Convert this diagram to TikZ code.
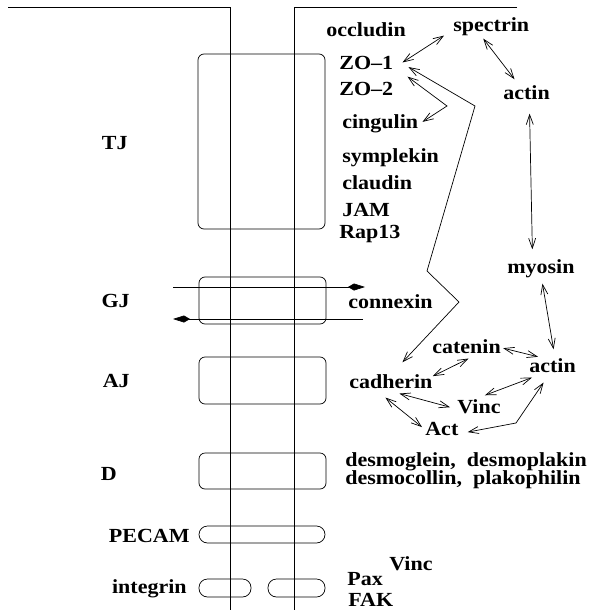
\documentclass[tikz,border=0pt]{standalone}
\usepackage{fontspec}
\setmainfont{Liberation Serif}[FakeStretch=1.1]
\usetikzlibrary{arrows.meta}

\tikzset{
    lbl/.style={font=\bfseries\fontsize{20}{18}\selectfont, inner sep=1pt},
    dbl/.style={{Straight Barb[length=10pt,width=7pt]}-{Straight Barb[length=10pt,width=7pt]}},
    gjarrow/.style={-{Kite[length=17pt,width=7pt,inset=6pt]}},
    junc/.style={rounded corners=6pt},
    pill/.style={rounded corners=8.5pt},
}

\begin{document}
\begin{tikzpicture}[x=1pt, y=-1pt, line width=0.7pt]
    \useasboundingbox (0,0) rectangle (593,610);
    % Membrane delle due cellule
    \draw (8,7) -- (230,7) -- (230,610);
    \draw (517,7) -- (294,7) -- (294,610);
    % Giunzioni
    \draw[junc] (198,54) rectangle (325,229);
    \draw[junc] (199,277) rectangle (326,324);
    \draw[junc] (199,357) rectangle (326,404);
    \draw[junc] (199,453) rectangle (326,489);
    \draw[pill] (199,526) rectangle (325,543);
    \draw[pill] (199,579) rectangle (251,597);
    \draw[pill] (268,579) rectangle (325,597);
    % Nomi delle giunzioni
    \node[lbl, anchor=base east] (tj) at (129,149) {TJ};
    \node[lbl, anchor=base east] (gj) at (131,307) {GJ};
    \node[lbl, anchor=base east] (aj) at (131,387) {AJ};
    \node[lbl, anchor=base east] (d) at (118,480) {D};
    \node[lbl, anchor=base east] (pecam) at (191,542) {PECAM};
    \node[lbl, anchor=base east] (integrin) at (188,593) {integrin};
    % Proteine
    \node[lbl, anchor=base west] (occludin) at (325,37) {occludin};
    \node[lbl, anchor=base west] (spectrin) at (452,32) {spectrin};
    \node[lbl, anchor=base west] (zo1) at (338,70) {ZO--1};
    \node[lbl, anchor=base west] (zo2) at (338,95) {ZO--2};
    \node[lbl, anchor=base west] (actin1) at (502,99) {actin};
    \node[lbl, anchor=base west] (cingulin) at (341,128) {cingulin};
    \node[lbl, anchor=base west] (symplekin) at (341,162) {symplekin};
    \node[lbl, anchor=base west] (claudin) at (341,189) {claudin};
    \node[lbl, anchor=base west] (jam) at (341,216) {JAM};
    \node[lbl, anchor=base west] (rap) at (338,238) {Rap13};
    \node[lbl, anchor=base west] (myosin) at (506,273) {myosin};
    \node[lbl, anchor=base west] (connexin) at (347,308) {connexin};
    \node[lbl, anchor=base west] (catenin) at (431,353) {catenin};
    \node[lbl, anchor=base west] (actin2) at (528,372) {actin};
    \node[lbl, anchor=base west] (cadherin) at (348,388) {cadherin};
    \node[lbl, anchor=base west] (vinc) at (456,413) {Vinc};
    \node[lbl, anchor=base west] (act) at (424,435) {Act};
    \node[lbl, anchor=base west, inner sep=0pt] (desmo1) at (345,466) {desmoglein,\ \ desmoplakin};
    \node[lbl, anchor=base west, inner sep=0pt] (desmo2) at (345,484.5) {desmocollin,\ \ plakophilin};
    \node[lbl, anchor=base west] (pax) at (346,585) {Pax};
    \node[lbl, anchor=base west] (vinc2) at (388,570) {Vinc};
    \node[lbl, anchor=base west] (fak) at (347,606) {FAK};
    % Canali della GJ
    \coordinate (gjin) at (173,287);
    \coordinate (gjout) at (365,287);
    \coordinate (gjback) at (363,319);
    \coordinate (gjleft) at (173,319);
    \draw[gjarrow] (gjin) -- (gjout);
    \draw[gjarrow] (gjback) -- (gjleft);
    % Interazioni
    \coordinate (bend1) at (447,106);
    \coordinate (zz1) at (475,106);
    \coordinate (zz2) at (427,271);
    \coordinate (zz3) at (459,302);
    \coordinate (bend2) at (516,423);
    \draw[dbl] ([shift={(8pt,1pt)}]zo1.east) -- ([shift={(-8pt,2pt)}]spectrin.south west);
    \draw[dbl] ([shift={(-8pt,-1pt)}]spectrin.south) -- ([shift={(-12pt,4.5pt)}]actin1.north);
    \draw[dbl] ([shift={(3pt,-13pt)}]actin1.south) -- ([shift={(-8.6pt,8.5pt)}]myosin.north);
    \draw[dbl] ([shift={(1.5pt,-5pt)}]myosin.south) -- ([shift={(1pt,7.5pt)}]actin2.north);
    \draw[dbl] ([shift={(1pt,-2pt)}]catenin.east) -- ([xshift=10pt]actin2.north west);
    \draw[dbl] ([shift={(-1pt,5pt)}]cadherin.east) -- ([shift={(2pt,-4pt)}]catenin.south);
    \draw[dbl] ([shift={(4pt,-4pt)}]actin2.south west) -- ([shift={(6pt,2.5pt)}]vinc.north);
    \draw[dbl] ([shift={(8.5pt,-4pt)}]cadherin.south) -- ([shift={(-6pt,-1pt)}]vinc.west);
    \draw[dbl] ([shift={(-5.5pt,-8pt)}]cadherin.south) -- ([shift={(-2pt,1.4pt)}]act.west);
    \draw[dbl] ([shift={(8pt,-3.6pt)}]act.east) -- (bend2) -- ([shift={(-9pt,-9pt)}]actin2.south);
    \draw[dbl] ([shift={(13pt,3.8pt)}]zo2.north east) -- (bend1) -- ([shift={(3pt,1.4pt)}]cingulin.east);
    \draw[dbl] ([shift={(14pt,-3.6pt)}]zo1.east) -- (zz1) -- (zz2) -- (zz3) -- ([shift={(11.5pt,10.5pt)}]cadherin.north);
\end{tikzpicture}
\end{document}
